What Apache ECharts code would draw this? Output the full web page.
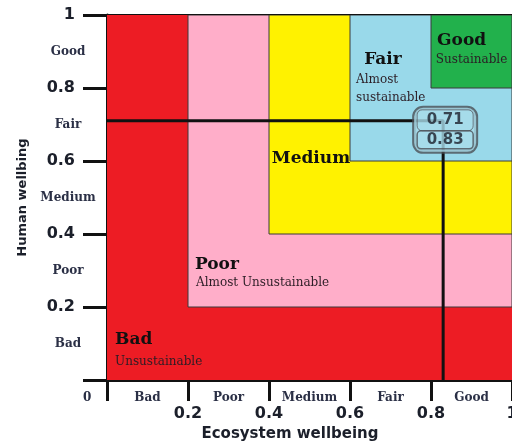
<!DOCTYPE html>
<html>
<head>
<meta charset="utf-8">
<script src="https://cdn.jsdelivr.net/npm/echarts@6/dist/echarts.min.js"></script>
<style>
  html, body { margin: 0; padding: 0; background: #fff; }
  #chart { width: 512px; height: 443px; }
</style>
</head>
<body>
<div id="chart"></div>
<script>
// ---- data ----
const levels = ['Bad', 'Poor', 'Medium', 'Fair', 'Good'];
const zoneLower = [0, 0.2, 0.4, 0.6, 0.8];
const zoneUpper = 1;
const zoneTitles = ['Bad', 'Poor', 'Medium', 'Fair', 'Good'];
const zoneSubtitles = ['Unsustainable', 'Almost Unsustainable', '', 'Almost\nsustainable', 'Sustainable'];
const xTickValues = [0, 0.2, 0.4, 0.6, 0.8, 1];
const humanValue = 0.71;
const ecosystemValue = 0.83;
const xTitle = 'Ecosystem wellbeing';
const yTitle = 'Human wellbing';

// ---- styles / layout ----
const zoneColors = ['#ED1C24', '#FFAEC9', '#FFF200', '#99D9EA', '#22B14C'];
const titleAt = [[0.02, 0.11], [0.217, 0.315], [0.407, 0.608], [0.635, 0.879], [0.815, 0.929]];
const subAt = [[0.02, 0.049], [0.22, 0.266], [0, 0], [0.615, 0.797], [0.812, 0.877]];
const serif = 'DejaVu Serif';
const sans = 'DejaVu Sans';
const ink = '#1b1f2a';

const chart = echarts.init(document.getElementById('chart'));

const zoneData = zoneLower.map((lo, i) => [lo, zoneUpper, i]);

const option = {
  animation: false,
  grid: { left: 107, top: 15, right: 0, bottom: 63, containLabel: false, outerBoundsMode: 'none' },
  xAxis: [
    {
      type: 'value', min: 0, max: 1, interval: 0.2, position: 'bottom',
      axisLine: { show: true, lineStyle: { color: '#111', width: 3 } },
      axisTick: { show: true, length: 21, lineStyle: { color: '#111', width: 3 } },
      splitLine: { show: false },
      axisLabel: {
        margin: 26, color: ink, fontFamily: sans, fontWeight: 'bold', fontSize: 16,
        formatter: v => (v === 0 ? '' : String(v))
      },
      name: xTitle, nameLocation: 'middle', nameGap: 45,
      nameTextStyle: { fontFamily: sans, fontWeight: 'bold', fontSize: 15, color: ink, padding: [0, 39, 0, 0] }
    },
    {
      type: 'category', data: levels, position: 'bottom', gridIndex: 0,
      axisLine: { show: false }, axisTick: { show: false }, splitLine: { show: false },
      axisLabel: { interval: 0, margin: 12, color: '#2a2f45', fontFamily: serif, fontWeight: 'bold', fontSize: 12 }
    },
    {
      type: 'value', min: 0, max: 1, position: 'top',
      axisLine: { show: true, lineStyle: { color: '#111', width: 3 } },
      axisTick: { show: false }, axisLabel: { show: false }, splitLine: { show: false }
    }
  ],
  yAxis: [
    {
      type: 'value', min: 0, max: 1, interval: 0.2, position: 'left',
      axisLine: { show: true, lineStyle: { color: '#111', width: 3 } },
      axisTick: { show: true, length: 24, lineStyle: { color: '#111', width: 3 } },
      splitLine: { show: false },
      axisLabel: {
        margin: 32, color: ink, fontFamily: sans, fontWeight: 'bold', fontSize: 16,
        formatter: v => (v === 0 ? '' : String(v))
      },
      name: yTitle, nameLocation: 'middle', nameGap: 78,
      nameTextStyle: { fontFamily: sans, fontWeight: 'bold', fontSize: 13, color: ink }
    },
    {
      type: 'category', data: levels, position: 'left',
      axisLine: { show: false }, axisTick: { show: false }, splitLine: { show: false },
      axisLabel: { interval: 0, margin: 39, align: 'center', color: '#2a2f45', fontFamily: serif, fontWeight: 'bold', fontSize: 12 }
    }
  ],
  series: [
    {
      type: 'custom',
      xAxisIndex: 0, yAxisIndex: 0,
      data: zoneData,
      clip: true,
      renderItem: function (params, api) {
        const lo = api.value(0), hi = api.value(1), i = api.value(2);
        const tl = api.coord([lo, hi]);
        const br = api.coord([hi, lo]);
        const children = [{
          type: 'rect',
          shape: { x: tl[0], y: tl[1], width: br[0] - tl[0], height: br[1] - tl[1] },
          style: { fill: zoneColors[i], stroke: i === 0 ? null : '#3a3a3a', lineWidth: 1 },
          z2: 0
        }];
        const tp = api.coord(titleAt[i]);
        children.push({
          type: 'text', z2: 10,
          style: {
            x: tp[0], y: tp[1], text: zoneTitles[i], align: 'left', verticalAlign: 'middle',
            fill: '#111', font: 'bold 17px "' + serif + '"'
          }
        });
        if (zoneSubtitles[i]) {
          const sp = api.coord(subAt[i]);
          children.push({
            type: 'text', z2: 10,
            style: {
              x: sp[0], y: sp[1], text: zoneSubtitles[i], align: 'left', verticalAlign: 'middle',
              fill: '#2b1d25', font: '12px "' + serif + '"', lineHeight: 18
            }
          });
        }
        return { type: 'group', children: children };
      },
      z: 1
    },
    {
      type: 'line',
      xAxisIndex: 0, yAxisIndex: 0,
      data: [[0, humanValue], [ecosystemValue, humanValue], [ecosystemValue, 0]],
      symbol: 'none',
      lineStyle: { color: '#111', width: 3 },
      z: 5
    },
    {
      type: 'scatter',
      xAxisIndex: 0, yAxisIndex: 0,
      data: [[ecosystemValue, humanValue]],
      symbolSize: 0,
      z: 10,
      label: {
        show: true, position: 'inside', offset: [2, 9],
        formatter: () => '{v|' + humanValue + '}\n{w|' + ecosystemValue + '}',
        backgroundColor: '#a9dcea', borderColor: '#4b4f55', borderWidth: 2, borderRadius: 9,
        padding: [2, 3, 3, 3],
        rich: {
          v: {
            fontFamily: sans, fontWeight: 'bold', fontSize: 15, color: ink,
            width: 50, height: 19, align: 'center',
            borderColor: '#5a5f66', borderWidth: 1, borderRadius: 5, padding: [1, 3]
          },
          w: {
            fontFamily: sans, fontWeight: 'bold', fontSize: 15, color: ink,
            width: 50, height: 16, align: 'center',
            borderColor: '#4b4f55', borderWidth: 1.5, borderRadius: 4, padding: [1, 3]
          }
        }
      }
    }
  ]
};

chart.setOption(option);

// "0" origin label (shared corner tick label)
const origin = chart.convertToPixel({ xAxisIndex: 0, yAxisIndex: 0 }, [xTickValues[0], 0]);
chart.setOption({
  graphic: [{
    type: 'text', left: origin[0] - 24, top: origin[1] + 12,
    style: { text: String(xTickValues[0]), fill: '#2a2f45', font: 'bold 12px "' + serif + '"' }
  }]
});
</script>
</body>
</html>
